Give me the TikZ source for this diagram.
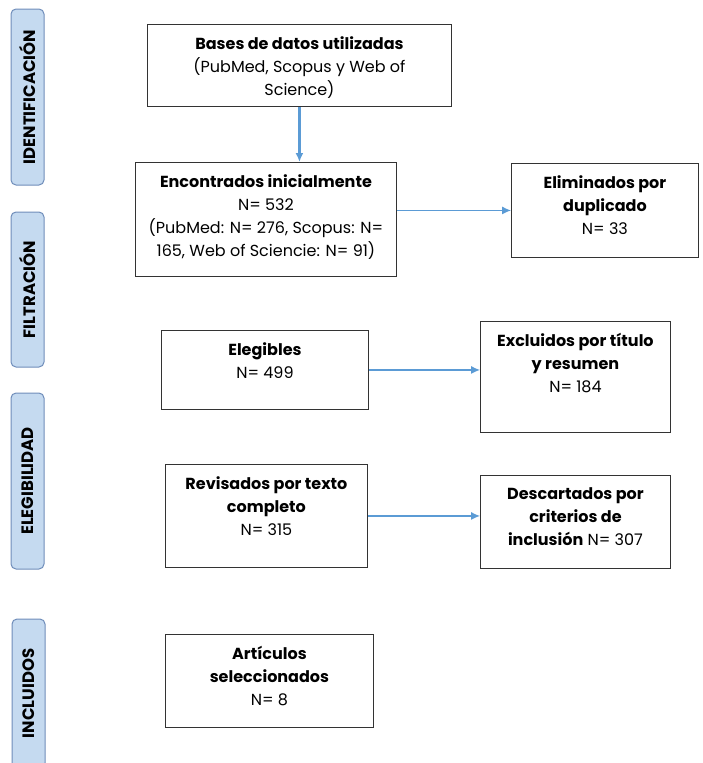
\documentclass[tikz,border=0pt]{standalone}
\usepackage{fontspec}
\setmainfont{Poppins}
\usepackage{xcolor}
\usetikzlibrary{positioning,arrows.meta}

\definecolor{phasefill}{HTML}{C5DAF0}
\definecolor{phaseline}{HTML}{6F8DBA}
\definecolor{flow}{HTML}{5B9BD5}

% top aligned text inside a box of fixed size
\newcommand{\boxtext}[3]{\parbox[t][#2][t]{#1}{\centering\vspace*{12pt}#3}}

\begin{document}
\begin{tikzpicture}[
    x=1pt,y=-1pt,
    block/.style={rectangle,draw=black!80,line width=0.9pt,anchor=north west,inner sep=0pt,font=\fontsize{16}{23}\selectfont},
    phase/.style={rectangle,draw=phaseline,fill=phasefill,line width=1pt,rounded corners=5pt,rotate=90,minimum height=33pt,inner sep=0pt,font=\bfseries\fontsize{16.5}{18}\selectfont},
    arrow/.style={-{Latex[length=9pt,width=8pt]},flow,line width=1.1pt}
]
\useasboundingbox (0,0) rectangle (702,763);

% phases
\node[phase,minimum width=176pt] (ident) at (27.5,97) {IDENTIFICACIÓN};
\node[phase,minimum width=155pt] (filt) at (27.5,289.5) {FILTRACIÓN};
\node[phase,minimum width=176pt] (eleg) at (27.5,481) {ELEGIBILIDAD};
\node[phase,minimum width=149pt] (incl) at (28.5,693.5) {INCLUIDOS};

% left column
\node[block] (bases) at (147,24) {\boxtext{304pt}{82pt}{\textbf{Bases de datos utilizadas}\\(PubMed, Scopus y Web of\\Science)}};
\node[block] (found) at (135,162) {\boxtext{261pt}{114pt}{\textbf{Encontrados inicialmente}\\N= 532\\(PubMed: N= 276, Scopus: N=\\165, Web of Sciencie: N= 91)}};
\node[block] (elig) at (161,330) {\boxtext{207pt}{79pt}{\textbf{Elegibles}\\N= 499}};
\node[block] (rev) at (165,464) {\boxtext{202pt}{103pt}{\textbf{Revisados por texto}\\\textbf{completo}\\N= 315}};
\node[block] (sel) at (165,634) {\boxtext{208pt}{93pt}{\textbf{Artículos}\\\textbf{seleccionados}\\N= 8}};

% right column
\node[block] (dup) at (511,163) {\boxtext{187pt}{94pt}{\textbf{Eliminados por}\\\textbf{duplicado}\\N= 33}};
\node[block] (excl) at (480,321) {\boxtext{190pt}{111pt}{\textbf{Excluidos por título}\\\textbf{y resumen}\\N= 184}};
\node[block] (disc) at (480,475) {\boxtext{190pt}{93pt}{\textbf{Descartados por}\\\textbf{criterios de}\\\textbf{inclusión} N= 307}};

\draw[arrow,line width=2.4pt] (bases.south) -- (bases.south |- found.north);
\draw[arrow] (found.east |- dup.west) -- (dup.west);
\draw[arrow] (elig.east) -- (elig.east -| excl.west);
\draw[arrow] (rev.east) -- (rev.east -| disc.west);

\end{tikzpicture}
\end{document}
